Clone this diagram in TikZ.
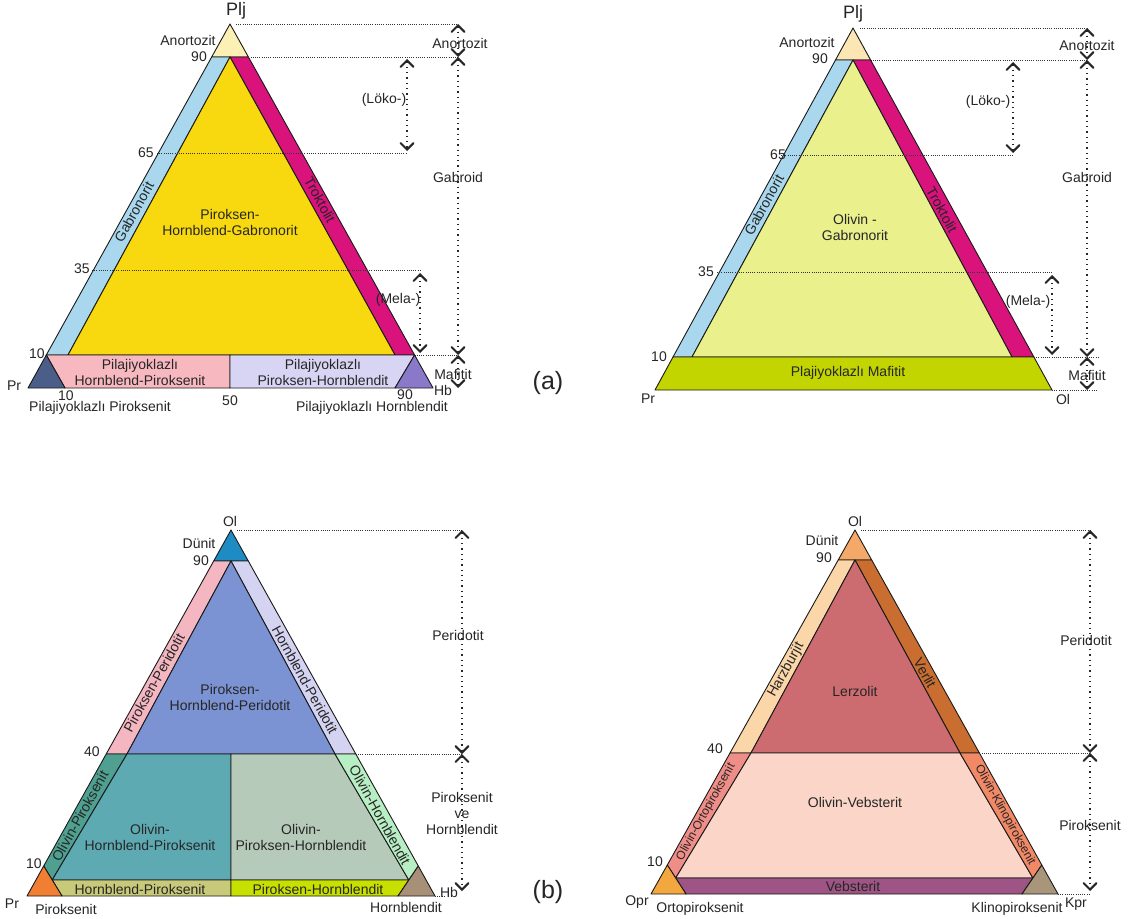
\documentclass[tikz,border=0pt]{standalone}
\usepackage{fontspec}
\setmainfont{Liberation Sans}
\usetikzlibrary{arrows.meta}
\definecolor{cAnoA}{HTML}{FCF0B4}
\definecolor{cAnoB}{HTML}{FBE6B4}
\definecolor{cGabn}{HTML}{A9D8EE}
\definecolor{cTrok}{HTML}{D9127C}
\definecolor{cYel}{HTML}{F8D80E}
\definecolor{cPink}{HTML}{F8B8C0}
\definecolor{cLav}{HTML}{D8D5F4}
\definecolor{cDkBl}{HTML}{4B5E8A}
\definecolor{cPurp}{HTML}{8A78C8}
\definecolor{cOlGab}{HTML}{E9F08C}
\definecolor{cMaf}{HTML}{C2D500}
\definecolor{cDunA}{HTML}{1E8BC3}
\definecolor{cPxPer}{HTML}{F4B6C0}
\definecolor{cHbPer}{HTML}{D4D4F2}
\definecolor{cPHPer}{HTML}{7B93D3}
\definecolor{cOlPx}{HTML}{4FA090}
\definecolor{cOHP}{HTML}{5EAAB3}
\definecolor{cOPH}{HTML}{B5CAB9}
\definecolor{cOlHb}{HTML}{B8EEC4}
\definecolor{cHbPx}{HTML}{C8CA7A}
\definecolor{cPxHb}{HTML}{C8E000}
\definecolor{cPrC}{HTML}{F07F33}
\definecolor{cHbC}{HTML}{A89078}
\definecolor{cDunB}{HTML}{F5A968}
\definecolor{cHarz}{HTML}{FBD6A8}
\definecolor{cVer}{HTML}{C96D30}
\definecolor{cLerz}{HTML}{CD6C70}
\definecolor{cOOpx}{HTML}{EF8D88}
\definecolor{cOVeb}{HTML}{FBD6C8}
\definecolor{cOCpx}{HTML}{F18866}
\definecolor{cVeb}{HTML}{9E5585}
\definecolor{cOpr}{HTML}{F2A83E}
\definecolor{cKpr}{HTML}{A8957A}
\begin{document}
\begin{tikzpicture}[x=1pt,y=-1pt,
  reg/.style={draw=black!90,line width=0.9pt,line join=round},
  lbl/.style={font=\fontsize{14}{16}\selectfont,text=black!85,inner sep=0pt,align=center},
  sml/.style={font=\fontsize{12}{14}\selectfont,text=black!85,inner sep=0pt,align=center},
  big/.style={font=\fontsize{18}{20}\selectfont,text=black!85,inner sep=0pt},
  panel/.style={font=\fontsize{25}{28}\selectfont,text=black!85,inner sep=0pt},
  guide/.style={line width=0.9pt,dash pattern=on 1pt off 1.2pt,black!80},
  chev/.tip={Straight Barb[length=6.5pt,width=13pt,line width=2pt,line cap=round]},
  dimline/.style={line width=1.1pt,dash pattern=on 1.3pt off 4pt,black!85,chev-chev}
]
\useasboundingbox (0,0) rectangle (1132,918);
\fill[white] (0,0) rectangle (1132,918);

% ================= TOP LEFT =================
\coordinate (TLapex) at (230,24);
\coordinate (TLpr) at (28,388);
\coordinate (TLhb) at (433,388);
\coordinate (TL90l) at (211.7,57);
\coordinate (TL90m) at (230,57);
\coordinate (TL90r) at (248.4,57);
\coordinate (TL10l) at (46.3,355);
\coordinate (TL10il) at (68,355);
\coordinate (TL10m) at (230,355);
\coordinate (TL10ir) at (395,355);
\coordinate (TL10r) at (414.6,355);
\coordinate (TLb10) at (65,388);
\coordinate (TLb50) at (230,388);
\coordinate (TLb90) at (395,388);

\filldraw[reg,fill=cAnoA] (TLapex) -- (TL90l) -- (TL90r) -- cycle;
\filldraw[reg,fill=cGabn] (TL90l) -- (TL90m) -- (TL10il) -- (TL10l) -- cycle;
\filldraw[reg,fill=cTrok] (TL90m) -- (TL90r) -- (TL10r) -- (TL10ir) -- cycle;
\filldraw[reg,fill=cYel] (TL90m) -- (TL10ir) -- (TL10il) -- cycle;
\filldraw[reg,fill=cPink] (TL10l) -- (TL10m) -- (TLb50) -- (TLb10) -- cycle;
\filldraw[reg,fill=cLav] (TL10m) -- (TL10r) -- (TLb90) -- (TLb50) -- cycle;
\filldraw[reg,fill=cDkBl] (TLpr) -- (TL10l) -- (TLb10) -- cycle;
\filldraw[reg,fill=cPurp] (TLhb) -- (TL10r) -- (TLb90) -- cycle;

\coordinate (TLk0) at (458,24);
\coordinate (TLk1) at (458,57);
\coordinate (TLk2) at (458,355);
\coordinate (TLk3) at (458,388);
\coordinate (TLg65) at (157,153);
\coordinate (TLl0) at (407,59);
\coordinate (TLl1) at (407,153);
\coordinate (TLl1e) at (407,151);
\coordinate (TLg35) at (92,270);
\coordinate (TLm0) at (420,270);
\coordinate (TLm0e) at (420,273);
\coordinate (TLm1) at (420,353);
\coordinate (TLaS) at (236,24);

\draw[guide] (TLaS) -- (TLk0);
\draw[guide] (TL90r) -- (TLk1);
\draw[guide] (TLg65) -- (TLl1);
\draw[guide] (TLg35) -- (TLm0);
\draw[guide] (TL10r) -- (TLk2);
\draw[dimline] (TLk0) -- (TLk1);
\draw[dimline] (TLk1) -- (TLk2);
\draw[dimline] (TLk2) -- (TLk3);
\draw[dimline] (TLl0) -- (TLl1e);
\draw[dimline] (TLm0e) -- (TLm1);

\node[big] (tlPlj) at (236,11) {Plj};
\node[lbl] (tlAno) at (188,40) {Anortozit};
\node[lbl] (tl90) at (199,57) {90};
\node[lbl] (tl65) at (146,153) {65};
\node[lbl] (tl35) at (82,269) {35};
\node[lbl] (tl10) at (37,354) {10};
\node[lbl] (tlPr) at (14,386) {Pr};
\node[lbl] (tlb10) at (66,396) {10};
\node[lbl] (tlb50) at (230,401) {50};
\node[lbl] (tlb90) at (405,395) {90};
\node[lbl] (tlPP) at (100,408) {Pilajiyoklazlı Piroksenit};
\node[lbl] (tlPH) at (372,408) {Pilajiyoklazlı Hornblendit};
\node[lbl] (tlHb) at (443,390) {Hb};
\node[lbl] (tlMaf) at (453,374) {Mafitit};
\node[lbl] (tlPHP) at (140,372) {Pilajiyoklazlı\\Hornblend-Piroksenit};
\node[lbl] (tlPPH) at (323,372) {Pilajiyoklazlı\\Piroksen-Hornblendit};
\node[lbl] (tlCen) at (230,222) {Piroksen-\\Hornblend-Gabronorit};
\node[lbl,rotate=61] (tlGab) at (134,212) {Gabronorit};
\node[lbl,rotate=-61] (tlTrok) at (320,200) {Troktolit};
\node[lbl] (tlLoko) at (384,100) {(Löko-)};
\node[lbl] (tlMela) at (398,300) {(Mela-)};
\node[lbl] (tlGabroid) at (458,177) {Gabroid};
\node[lbl] (tlAnoR) at (460,43) {Anortozit};
\node[panel] (pa) at (548,383) {(a)};

% ================= TOP RIGHT =================
\coordinate (TRapex) at (853,28);
\coordinate (TRpr) at (655,390);
\coordinate (TRol) at (1052,390);
\coordinate (TR90l) at (835.5,60);
\coordinate (TR90m) at (853,60);
\coordinate (TR90r) at (870.6,60);
\coordinate (TR10l) at (673,357);
\coordinate (TR10il) at (692,357);
\coordinate (TR10ir) at (1012,357);
\coordinate (TR10r) at (1033.9,357);

\filldraw[reg,fill=cAnoB] (TRapex) -- (TR90l) -- (TR90r) -- cycle;
\filldraw[reg,fill=cGabn] (TR90l) -- (TR90m) -- (TR10il) -- (TR10l) -- cycle;
\filldraw[reg,fill=cTrok] (TR90m) -- (TR90r) -- (TR10r) -- (TR10ir) -- cycle;
\filldraw[reg,fill=cOlGab] (TR90m) -- (TR10ir) -- (TR10il) -- cycle;
\filldraw[reg,fill=cMaf] (TR10l) -- (TR10r) -- (TRol) -- (TRpr) -- cycle;

\coordinate (TRk0) at (1087,28);
\coordinate (TRk1) at (1087,60);
\coordinate (TRk2) at (1087,357);
\coordinate (TRk3) at (1087,390);
\coordinate (TRaS) at (860,28);
\coordinate (TRg65) at (781,155);
\coordinate (TRl0) at (1013,62);
\coordinate (TRl1) at (1013,155);
\coordinate (TRl1e) at (1013,153);
\coordinate (TRg35) at (717,272);
\coordinate (TRm0) at (1052,272);
\coordinate (TRm0e) at (1052,275);
\coordinate (TRm1) at (1052,355);
\coordinate (TRe10) at (1098,357);
\coordinate (TRe0) at (1098,390);

\draw[guide] (TRaS) -- (TRk0);
\draw[guide] (TR90r) -- (TRk1);
\draw[guide] (TRg65) -- (TRl1);
\draw[guide] (TRg35) -- (TRm0);
\draw[guide] (TR10r) -- (TRe10);
\draw[guide] (TRol) -- (TRe0);
\draw[dimline] (TRk0) -- (TRk1);
\draw[dimline] (TRk1) -- (TRk2);
\draw[dimline] (TRk2) -- (TRk3);
\draw[dimline] (TRl0) -- (TRl1e);
\draw[dimline] (TRm0e) -- (TRm1);

\node[big] (trPlj) at (853,14) {Plj};
\node[lbl] (trAno) at (807,42) {Anortozit};
\node[lbl] (tr90) at (820,59) {90};
\node[lbl] (tr65) at (778,155) {65};
\node[lbl] (tr35) at (706,272) {35};
\node[lbl] (tr10) at (659,357) {10};
\node[lbl] (trPr) at (648,399) {Pr};
\node[lbl] (trOl) at (1063,399) {Ol};
\node[lbl] (trCen) at (855,227) {Olivin -\\Gabronorit};
\node[lbl,rotate=61] (trGab) at (764,205) {Gabronorit};
\node[lbl,rotate=-61] (trTrok) at (942,210) {Troktolit};
\node[lbl] (trMaf) at (848,373) {Plajiyoklazlı Mafitit};
\node[lbl] (trLoko) at (988,102) {(Löko-)};
\node[lbl] (trMela) at (1028,302) {(Mela-)};
\node[lbl] (trGabroid) at (1087,177) {Gabroid};
\node[lbl] (trAnoR) at (1087,45) {Anortozit};
\node[lbl] (trMafR) at (1087,375) {Mafitit};

% ================= BOTTOM LEFT =================
\coordinate (BLapex) at (231,530);
\coordinate (BLpr) at (27,896);
\coordinate (BLhb) at (435,896);
\coordinate (BL90l) at (213.7,561);
\coordinate (BL90m) at (231,561);
\coordinate (BL90r) at (248.3,561);
\coordinate (BL40l) at (106.2,754);
\coordinate (BL40il) at (127,754);
\coordinate (BL40m) at (231,754);
\coordinate (BL40ir) at (335,754);
\coordinate (BL40r) at (355.8,754);
\coordinate (BLcl) at (43.7,866);
\coordinate (BLcr) at (418.3,866);
\coordinate (BLpl) at (52.2,880);
\coordinate (BLpm) at (231,880);
\coordinate (BLpr2) at (408.8,880);
\coordinate (BLbl) at (62,896);
\coordinate (BLbm) at (231,896);
\coordinate (BLbr) at (398,896);

\filldraw[reg,fill=cDunA] (BLapex) -- (BL90l) -- (BL90r) -- cycle;
\filldraw[reg,fill=cPxPer] (BL90l) -- (BL90m) -- (BL40il) -- (BL40l) -- cycle;
\filldraw[reg,fill=cHbPer] (BL90m) -- (BL90r) -- (BL40r) -- (BL40ir) -- cycle;
\filldraw[reg,fill=cPHPer] (BL90m) -- (BL40ir) -- (BL40il) -- cycle;
\filldraw[reg,fill=cOlPx] (BL40l) -- (BL40il) -- (BLpl) -- (BLcl) -- cycle;
\filldraw[reg,fill=cOHP] (BL40il) -- (BL40m) -- (BLpm) -- (BLpl) -- cycle;
\filldraw[reg,fill=cOPH] (BL40m) -- (BL40ir) -- (BLpr2) -- (BLpm) -- cycle;
\filldraw[reg,fill=cOlHb] (BL40ir) -- (BL40r) -- (BLcr) -- (BLpr2) -- cycle;
\filldraw[reg,fill=cHbPx] (BLpl) -- (BLpm) -- (BLbm) -- (BLbl) -- cycle;
\filldraw[reg,fill=cPxHb] (BLpm) -- (BLpr2) -- (BLbr) -- (BLbm) -- cycle;
\filldraw[reg,fill=cPrC] (BLpr) -- (BLcl) -- (BLbl) -- cycle;
\filldraw[reg,fill=cHbC] (BLhb) -- (BLcr) -- (BLbr) -- cycle;

\coordinate (BLk0) at (462,530);
\coordinate (BLk1) at (462,754);
\coordinate (BLk2) at (462,891);
\coordinate (BLaS) at (237,530);
\coordinate (BLe0) at (445,896);

\draw[guide] (BLaS) -- (BLk0);
\draw[guide] (BL40r) -- (BLk1);
\draw[guide] (BLhb) -- (BLe0);
\draw[dimline] (BLk0) -- (BLk1);
\draw[dimline] (BLk1) -- (BLk2);

\node[lbl] (blOl) at (230,521) {Ol};
\node[lbl] (blDun) at (199,543) {Dünit};
\node[lbl] (bl90) at (201,561) {90};
\node[lbl] (bl40) at (92,752) {40};
\node[lbl] (bl10) at (34,864) {10};
\node[lbl] (blPr) at (12,904) {Pr};
\node[lbl] (blPx) at (66,909) {Piroksenit};
\node[lbl] (blHbl) at (406,907) {Hornblendit};
\node[lbl] (blHb) at (449,892) {Hb};
\node[lbl] (blCenU) at (230,697) {Piroksen-\\Hornblend-Peridotit};
\node[lbl,rotate=61] (blPP) at (154,683) {Piroksen-Peridotit};
\node[lbl,rotate=-61] (blHP) at (305,680) {Hornblend-Peridotit};
\node[lbl,rotate=61] (blOP) at (80,816) {Olivin-Piroksenit};
\node[lbl,rotate=-61] (blOH) at (380,815) {Olivin-Hornblendit};
\node[lbl] (blOHP) at (150,837) {Olivin-\\Hornblend-Piroksenit};
\node[lbl] (blOPH) at (301,837) {Olivin-\\Piroksen-Hornblendit};
\node[lbl] (blHPb) at (140,889) {Hornblend-Piroksenit};
\node[lbl] (blPHb) at (318,889) {Piroksen-Hornblendit};
\node[lbl] (blPer) at (458,635) {Peridotit};
\node[lbl] (blPvH) at (462,813) {Piroksenit\\ve\\Hornblendit};
\node[panel] (pb) at (548,892) {(b)};

% ================= BOTTOM RIGHT =================
\coordinate (BRapex) at (855,530);
\coordinate (BRopr) at (651,894);
\coordinate (BRkpr) at (1058,894);
\coordinate (BR90l) at (838.2,560);
\coordinate (BR90m) at (855,560);
\coordinate (BR90r) at (871.7,560);
\coordinate (BR40l) at (730,753);
\coordinate (BR40il) at (751,753);
\coordinate (BR40ir) at (960,753);
\coordinate (BR40r) at (979.4,753);
\coordinate (BRcl) at (667.3,865);
\coordinate (BRcr) at (1041.8,865);
\coordinate (BRpl) at (675.7,878);
\coordinate (BRpr) at (1032.9,878);
\coordinate (BRbl) at (686,894);
\coordinate (BRbr) at (1022,894);

\filldraw[reg,fill=cDunB] (BRapex) -- (BR90l) -- (BR90r) -- cycle;
\filldraw[reg,fill=cHarz] (BR90l) -- (BR90m) -- (BR40il) -- (BR40l) -- cycle;
\filldraw[reg,fill=cVer] (BR90m) -- (BR90r) -- (BR40r) -- (BR40ir) -- cycle;
\filldraw[reg,fill=cLerz] (BR90m) -- (BR40ir) -- (BR40il) -- cycle;
\filldraw[reg,fill=cOOpx] (BR40l) -- (BR40il) -- (BRpl) -- (BRcl) -- cycle;
\filldraw[reg,fill=cOVeb] (BR40il) -- (BR40ir) -- (BRpr) -- (BRpl) -- cycle;
\filldraw[reg,fill=cOCpx] (BR40ir) -- (BR40r) -- (BRcr) -- (BRpr) -- cycle;
\filldraw[reg,fill=cVeb] (BRpl) -- (BRpr) -- (BRbr) -- (BRbl) -- cycle;
\filldraw[reg,fill=cOpr] (BRopr) -- (BRcl) -- (BRbl) -- cycle;
\filldraw[reg,fill=cKpr] (BRkpr) -- (BRcr) -- (BRbr) -- cycle;

\coordinate (BRk0) at (1090,530);
\coordinate (BRk1) at (1090,753);
\coordinate (BRk2) at (1090,891);
\coordinate (BRaS) at (861,530);
\coordinate (BRe0) at (1090,894);

\draw[guide] (BRaS) -- (BRk0);
\draw[guide] (BR40r) -- (BRk1);
\draw[guide] (BRkpr) -- (BRe0);
\draw[dimline] (BRk0) -- (BRk1);
\draw[dimline] (BRk1) -- (BRk2);

\node[lbl] (brOl) at (855,521) {Ol};
\node[lbl] (brDun) at (822,540) {Dünit};
\node[lbl] (br90) at (824,558) {90};
\node[lbl] (br40) at (715,749) {40};
\node[lbl] (br10) at (655,862) {10};
\node[lbl] (brOpr) at (637,902) {Opr};
\node[lbl] (brOpx) at (700,909) {Ortopiroksenit};
\node[lbl] (brCpx) at (1017,909) {Klinopiroksenit};
\node[lbl] (brKpr) at (1076,904) {Kpr};
\node[lbl] (brLerz) at (855,691) {Lerzolit};
\node[lbl] (brOV) at (855,802) {Olivin-Vebsterit};
\node[lbl] (brVeb) at (853,886) {Vebsterit};
\node[lbl,rotate=61] (brHarz) at (786,670) {Harzburjit};
\node[lbl,rotate=-61] (brVer) at (925,673) {Verlit};
\node[sml,rotate=61] (brOO) at (706,812) {Olivin-Ortopiroksenit};
\node[sml,rotate=-61] (brOK) at (1005,815) {Olivin-Klinopiroksenit};
\node[lbl] (brPer) at (1086,640) {Peridotit};
\node[lbl] (brPx) at (1090,825) {Piroksenit};
\end{tikzpicture}
\end{document}
